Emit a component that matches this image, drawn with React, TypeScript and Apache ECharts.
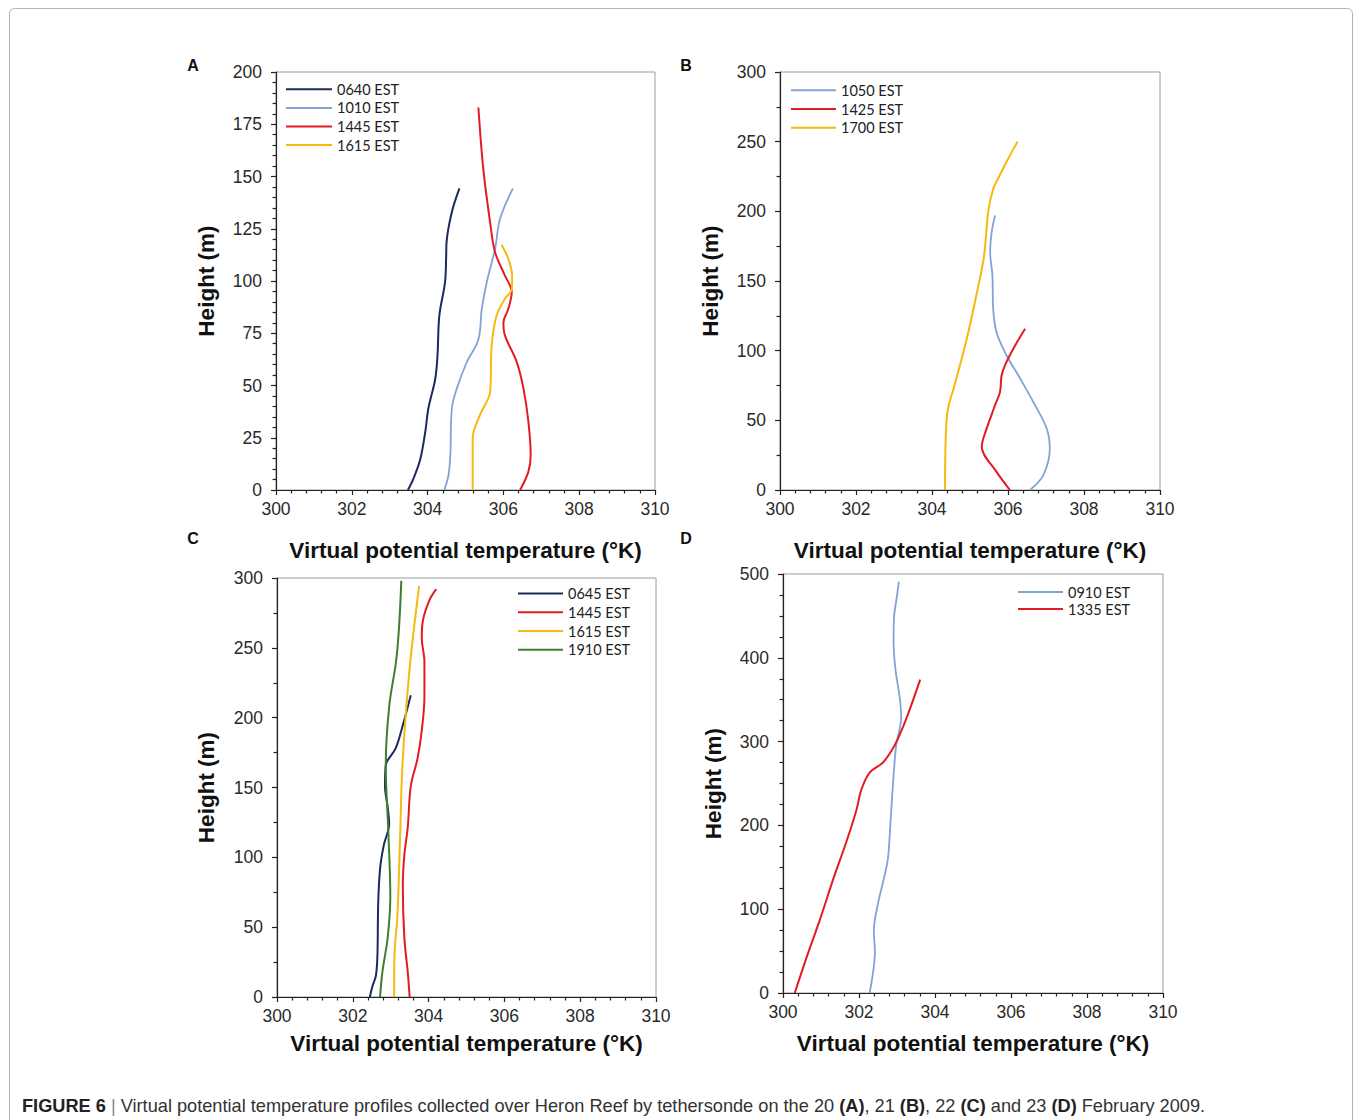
import React, { useEffect, useRef } from "react";
import * as echarts from "echarts";

// ---------- DATA ----------
const X_TITLE = "Virtual potential temperature (°K)";
const Y_TITLE = "Height (m)";
const PANEL_LABELS = ["A", "B", "C", "D"];

// Panel A (20 Feb 2009)
const A_0640_H = [0, 5.6, 15, 28, 39, 53, 64, 83.5, 99.5, 112, 118.5, 133, 144.3];
const A_0640_T = [303.48, 303.63, 303.81, 303.94, 304.02, 304.2, 304.26, 304.31, 304.46, 304.49, 304.5, 304.64, 304.84];
const A_1010_H = [0, 7, 16.7, 39, 48.5, 61, 72, 86.7, 99.4, 115.4, 129.7, 144.3];
const A_1010_T = [304.44, 304.55, 304.6, 304.64, 304.77, 305.03, 305.34, 305.43, 305.56, 305.78, 305.91, 306.25];
const A_1445_H = [0, 8.8, 16.7, 32.6, 48.5, 61.3, 74, 80, 86.7, 94.7, 102.6, 113.8, 128, 153.5, 183];
const A_1445_T = [306.44, 306.66, 306.72, 306.66, 306.53, 306.35, 306.04, 306.0, 306.13, 306.22, 306.04, 305.78, 305.65, 305.47, 305.34];
const A_1615_H = [0, 24.7, 35.8, 47, 69, 83.5, 91.5, 96, 102.6, 110.6, 117.3];
const A_1615_T = [305.19, 305.19, 305.38, 305.65, 305.69, 305.82, 306.04, 306.22, 306.23, 306.13, 305.95];

// Panel B (21 Feb 2009)
const B_1050_H = [0, 10.7, 29.8, 44, 63, 80, 96.7, 113, 130, 154, 170.6, 185, 197];
const B_1050_T = [306.58, 306.93, 307.1, 307.02, 306.67, 306.32, 305.96, 305.7, 305.61, 305.59, 305.53, 305.57, 305.66];
const B_1425_H = [0, 13, 31, 37, 61, 70.4, 82, 89.5, 101.4, 115.7];
const B_1425_T = [306.05, 305.7, 305.31, 305.35, 305.66, 305.79, 305.83, 305.92, 306.14, 306.45];
const B_1700_H = [0, 37, 55, 63, 73, 108, 144, 168, 200, 216, 223, 237.5, 250];
const B_1700_T = [304.34, 304.36, 304.4, 304.46, 304.57, 304.91, 305.2, 305.37, 305.48, 305.61, 305.73, 306.0, 306.25];

// Panel C (22 Feb 2009)
const C_0645_H = [0, 7.9, 15.3, 30, 67, 92, 109, 124, 136, 151, 166, 178, 195.6, 216];
const C_0645_T = [302.45, 302.52, 302.61, 302.65, 302.67, 302.72, 302.82, 302.96, 302.92, 302.85, 302.87, 303.13, 303.33, 303.53];
const C_1445_H = [0, 17.8, 42.5, 79.5, 101.7, 121.5, 151, 171, 191, 215, 240, 257, 269.6, 284, 292];
const C_1445_T = [303.5, 303.45, 303.36, 303.32, 303.36, 303.45, 303.53, 303.71, 303.82, 303.89, 303.89, 303.82, 303.85, 304.02, 304.2];
const C_1615_H = [0, 30, 59.8, 116.5, 166, 232.6, 294.3];
const C_1615_T = [303.09, 303.1, 303.18, 303.25, 303.31, 303.49, 303.75];
const C_1910_H = [0, 17.8, 42.5, 72, 116.5, 166, 208, 240, 264.7, 298];
const C_1910_T = [302.72, 302.78, 302.92, 302.99, 302.94, 302.87, 302.96, 303.14, 303.22, 303.28];

// Panel D (23 Feb 2009)
const D_0910_H = [0, 24.6, 49, 74, 107, 135.6, 160, 197, 246.5, 296, 328.7, 353, 386, 419, 447.6, 468, 491];
const D_0910_T = [302.28, 302.37, 302.42, 302.39, 302.5, 302.65, 302.76, 302.82, 302.89, 302.98, 303.11, 303.07, 302.96, 302.91, 302.92, 302.98, 303.05];
const D_1335_H = [0, 41, 86, 135.6, 180.8, 217.8, 242.4, 263, 275, 291.7, 308, 332.8, 374];
const D_1335_T = [300.31, 300.61, 300.96, 301.32, 301.67, 301.93, 302.06, 302.28, 302.63, 302.89, 303.07, 303.29, 303.61];

// Axis ranges
const X_MIN = 300, X_MAX = 310, X_INTERVAL = 2;
const Y_MAX = [200, 300, 300, 500];
const Y_INTERVAL = [25, 50, 50, 100];
const Y_MINOR_SPLIT = [5, 2, 2, 4];

const CAPTION_PARTS = [
  "{b|FIGURE 6} {s||} Virtual potential temperature profiles collected over Heron Reef by tethersonde on the 20 ",
  "{b|(A)}, 21 {b|(B)}, 22 {b|(C)} and 23 {b|(D)} February 2009.",
];

// ---------- COLOURS / LAYOUT ----------
const NAVY = "#1c2a5c";
const LBLUE = "#84a2d6";
const RED = "#e31b23";
const YELLOW = "#f5b90f";
const GREEN = "#3f7d2f";

const GRIDS = [
  { left: 276, top: 72, width: 379, height: 418 },
  { left: 780, top: 72, width: 380, height: 418 },
  { left: 277, top: 578, width: 379, height: 419 },
  { left: 783, top: 574, width: 380, height: 419 },
];
const X_NAME_GAP = [49, 49, 35, 39];
const Y_NAME_GAP = [58, 58, 59, 58];
const LABEL_POS = [
  [193, 65],
  [686, 65],
  [193, 538],
  [686, 538],
];

const zip = (t: number[], h: number[]) => t.map((v, k) => [v, h[k]]);

type S = { name: string; t: number[]; h: number[]; color: string; width: number; panel: number };
const SERIES: S[] = [
  { name: "0640 EST", t: A_0640_T, h: A_0640_H, color: NAVY, width: 2, panel: 0 },
  { name: "1010 EST", t: A_1010_T, h: A_1010_H, color: LBLUE, width: 1.8, panel: 0 },
  { name: "1445 EST", t: A_1445_T, h: A_1445_H, color: RED, width: 2, panel: 0 },
  { name: "1615 EST", t: A_1615_T, h: A_1615_H, color: YELLOW, width: 2, panel: 0 },
  { name: "1050 EST", t: B_1050_T, h: B_1050_H, color: LBLUE, width: 1.8, panel: 1 },
  { name: "1425 EST", t: B_1425_T, h: B_1425_H, color: RED, width: 2, panel: 1 },
  { name: "1700 EST", t: B_1700_T, h: B_1700_H, color: YELLOW, width: 2, panel: 1 },
  { name: "0645 EST", t: C_0645_T, h: C_0645_H, color: NAVY, width: 2, panel: 2 },
  { name: "1445 EST", t: C_1445_T, h: C_1445_H, color: RED, width: 2, panel: 2 },
  { name: "1615 EST", t: C_1615_T, h: C_1615_H, color: YELLOW, width: 2, panel: 2 },
  { name: "1910 EST", t: C_1910_T, h: C_1910_H, color: GREEN, width: 2, panel: 2 },
  { name: "0910 EST", t: D_0910_T, h: D_0910_H, color: LBLUE, width: 1.8, panel: 3 },
  { name: "1335 EST", t: D_1335_T, h: D_1335_H, color: RED, width: 2, panel: 3 },
];

const LEGENDS = [
  { left: 286, top: 80, gap: 18.6, width: 46, names: ["0640 EST", "1010 EST", "1445 EST", "1615 EST"] },
  { left: 791, top: 81, gap: 18.7, width: 45, names: ["1050 EST", "1425 EST", "1700 EST"] },
  { left: 518, top: 584, gap: 18.8, width: 45, names: ["0645 EST", "1445 EST", "1615 EST", "1910 EST"] },
  { left: 1018, top: 583.5, gap: 17, width: 45, names: ["0910 EST", "1335 EST"] },
];

const AXIS_COLOR = "#222";
const LABEL_COLOR = "#2a2a2a";
const SANS = "'Liberation Sans', Arial, Helvetica, sans-serif";

function buildOption() {
  const grid = GRIDS.map((g) => ({
    ...g,
    show: true,
    borderColor: "#9c9c9c",
    borderWidth: 1,
    backgroundColor: "transparent",
    containLabel: false,
  }));

  const xAxis = GRIDS.map((_, i) => ({
    type: "value",
    gridIndex: i,
    min: X_MIN,
    max: X_MAX,
    interval: X_INTERVAL,
    name: X_TITLE,
    nameLocation: "middle",
    nameGap: X_NAME_GAP[i],
    nameTextStyle: { fontFamily: SANS, fontWeight: "bold", fontSize: 22.5, color: "#111" },
    axisLine: { show: true, onZero: false, lineStyle: { color: AXIS_COLOR, width: 1.2 } },
    axisTick: { show: true, inside: false, length: 5, lineStyle: { color: AXIS_COLOR, width: 1.2 } },
    minorTick: { show: true, splitNumber: 5, length: 3.5, lineStyle: { color: AXIS_COLOR, width: 1.2 } },
    splitLine: { show: false },
    minorSplitLine: { show: false },
    axisLabel: { fontFamily: SANS, fontSize: 17.5, color: LABEL_COLOR, margin: 10 },
  }));

  const yAxis = GRIDS.map((_, i) => ({
    type: "value",
    gridIndex: i,
    min: 0,
    max: Y_MAX[i],
    interval: Y_INTERVAL[i],
    name: Y_TITLE,
    nameLocation: "middle",
    nameGap: Y_NAME_GAP[i],
    nameRotate: 90,
    nameTextStyle: { fontFamily: SANS, fontWeight: "bold", fontSize: 22.5, color: "#111" },
    axisLine: { show: true, onZero: false, lineStyle: { color: AXIS_COLOR, width: 1.2 } },
    axisTick: { show: true, inside: false, length: 5, lineStyle: { color: AXIS_COLOR, width: 1.2 } },
    minorTick: { show: true, splitNumber: Y_MINOR_SPLIT[i], length: 3.5, lineStyle: { color: AXIS_COLOR, width: 1.2 } },
    splitLine: { show: false },
    minorSplitLine: { show: false },
    axisLabel: { fontFamily: SANS, fontSize: 17.5, color: LABEL_COLOR, margin: 14 },
  }));

  const series = SERIES.map((s) => ({
    type: "line",
    name: s.name,
    xAxisIndex: s.panel,
    yAxisIndex: s.panel,
    data: zip(s.t, s.h),
    symbol: "none",
    showSymbol: false,
    smooth: 0.35,
    color: s.color,
    lineStyle: { color: s.color, width: s.width },
    z: 3,
  }));

  const legend = LEGENDS.map((l) => ({
    show: true,
    orient: "vertical",
    left: l.left,
    top: l.top,
    padding: 0,
    itemGap: 0,
    itemWidth: l.width,
    itemHeight: 2,
    icon: "rect",
    selectedMode: false,
    data: l.names,
    textStyle: {
      fontFamily: "Lato, 'Open Sans', sans-serif",
      fontSize: 14.5,
      color: "#222",
      lineHeight: l.gap,
      padding: [0, 0, 0, 0],
    },
  }));

  const graphic: any[] = [
    {
      type: "rect",
      shape: { x: 9.5, y: 8.5, width: 1343, height: 1140, r: 5 },
      style: { fill: "none", stroke: "#b3b3b3", lineWidth: 1 },
      silent: true,
      z: 0,
    },
    ...PANEL_LABELS.map((t, i) => ({
      type: "text",
      x: LABEL_POS[i][0],
      y: LABEL_POS[i][1],
      style: {
        text: t,
        fontFamily: SANS,
        fontWeight: "bold",
        fontSize: 16,
        fill: "#111",
        align: "center",
        verticalAlign: "middle",
      },
      silent: true,
    })),
    {
      type: "text",
      x: 22,
      y: 1106,
      style: {
        text: CAPTION_PARTS.join(""),
        fontFamily: SANS,
        fontSize: 18.2,
        fill: "#333",
        verticalAlign: "middle",
        rich: {
          b: { fontFamily: SANS, fontSize: 18.2, fontWeight: "bold", fill: "#222" },
          s: { fontFamily: SANS, fontSize: 18.2, fill: "#888" },
        },
      },
      silent: true,
    },
  ];

  return {
    animation: false,
    backgroundColor: "#ffffff",
    grid,
    xAxis,
    yAxis,
    legend,
    series,
    graphic,
  };
}

export default function App() {
  const ref = useRef<HTMLDivElement | null>(null);
  useEffect(() => {
    if (!ref.current) return;
    const chart = echarts.init(ref.current, null, { renderer: "svg" });
    chart.setOption(buildOption() as any);
    return () => chart.dispose();
  }, []);
  return (
    <div
      ref={ref}
      style={{ position: "absolute", left: 0, top: 0, width: 1357, height: 1120, background: "#fff" }}
    />
  );
}
